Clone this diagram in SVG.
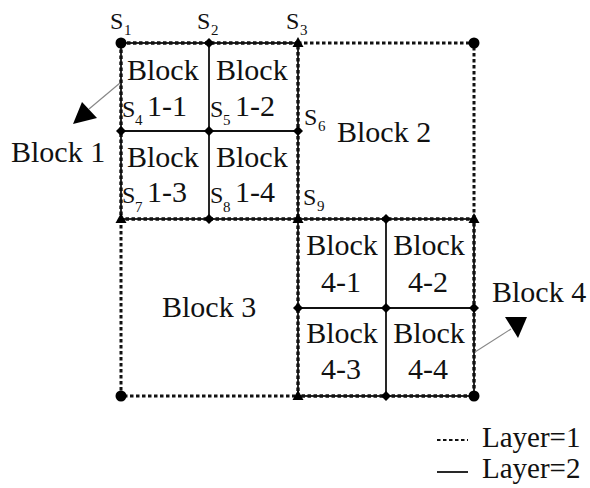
<svg xmlns="http://www.w3.org/2000/svg" width="590" height="488" viewBox="0 0 590 488">
<defs>
<style>
text{font-family:"Liberation Serif","Times New Roman",serif;fill:#111}
.big{font-size:30px}
.s{font-size:24px}
.sub{font-size:15px}
.leg{font-size:29px}
.l1{stroke:#111;stroke-width:3;stroke-dasharray:3.5 2.5;fill:none}
.l2{stroke:#111;stroke-width:1.8;fill:none}
.both{stroke:#111;stroke-width:3.4;stroke-dasharray:3.5 2.5;fill:none}
.ptr{stroke:#888;stroke-width:1.2;fill:none}
.mk{fill:#000}
</style>
<circle id="dot" r="5.5" class="mk"/>
<polygon id="dia" points="0,-5 5,0 0,5 -5,0" class="mk"/>
<polygon id="tri" points="0,-6 5.5,4 -5.5,4" class="mk"/>
</defs>
<rect width="590" height="488" fill="#fff"/>

<g id="connectors">
<!-- Layer 1 only -->
<path class="l1" d="M298,43 H474 V219"/>
<path class="l1" d="M121,219 V396 H298"/>
<!-- Layer 1 + Layer 2 overlap (block borders) -->
<rect class="l2" x="121" y="43" width="177" height="176"/>
<rect class="both" x="121" y="43" width="177" height="176"/>
<rect class="l2" x="298" y="219" width="176" height="177"/>
<rect class="both" x="298" y="219" width="176" height="177"/>
<!-- Layer 2 inner lines -->
<path class="l2" d="M209,43 V219 M121,131 H298"/>
<path class="l2" d="M386,219 V396 M298,308 H474"/>
<!-- pointers -->
<line class="ptr" x1="120" y1="83" x2="89" y2="109"/>
<polygon class="mk" points="82,102 97,118 73,124"/>
<line class="ptr" x1="475" y1="352" x2="511" y2="329"/>
<polygon class="mk" points="505,317 527,317 518,338"/>
</g>

<g id="vertices">
<use href="#dot" x="121" y="43"/>
<use href="#dot" x="474" y="43"/>
<use href="#dot" x="121" y="396"/>
<use href="#dot" x="474" y="396"/>
<use href="#dia" x="209" y="43"/>
<use href="#dia" x="121" y="131"/>
<use href="#dia" x="209" y="131"/>
<use href="#dia" x="298" y="131"/>
<use href="#dia" x="209" y="219"/>
<use href="#dia" x="386" y="219"/>
<use href="#dia" x="298" y="308"/>
<use href="#dia" x="386" y="308"/>
<use href="#dia" x="474" y="308"/>
<use href="#dia" x="386" y="396"/>
<use href="#tri" x="298" y="43"/>
<use href="#tri" x="121" y="219"/>
<use href="#tri" x="298" y="219"/>
<use href="#tri" x="474" y="219"/>
<use href="#tri" x="298" y="396"/>
</g>

<g id="seeds">
<text class="s" x="110" y="29">S</text><text class="sub" x="124" y="35">1</text>
<text class="s" x="197" y="29">S</text><text class="sub" x="211" y="35">2</text>
<text class="s" x="286" y="29">S</text><text class="sub" x="300" y="35">3</text>
<text class="s" x="304" y="125">S</text><text class="sub" x="318" y="131">6</text>
<text class="s" x="303" y="205">S</text><text class="sub" x="317" y="211">9</text>
</g>

<g id="block1">
<text class="big" x="11" y="162">Block 1</text>
</g>
<g id="block1-1">
<text class="big" x="127" y="80">Block</text>
<text class="s" x="122" y="117">S</text><text class="sub" x="135" y="125">4</text>
<text class="big" x="147" y="116">1-1</text>
</g>
<g id="block1-2">
<text class="big" x="216" y="80">Block</text>
<text class="s" x="210" y="117">S</text><text class="sub" x="223" y="125">5</text>
<text class="big" x="235" y="116">1-2</text>
</g>
<g id="block1-3">
<text class="big" x="127" y="167">Block</text>
<text class="s" x="122" y="203">S</text><text class="sub" x="135" y="212">7</text>
<text class="big" x="147" y="202">1-3</text>
</g>
<g id="block1-4">
<text class="big" x="216" y="167">Block</text>
<text class="s" x="210" y="203">S</text><text class="sub" x="223" y="212">8</text>
<text class="big" x="235" y="202">1-4</text>
</g>

<g id="block2">
<text class="big" x="337" y="142">Block 2</text>
</g>
<g id="block3">
<text class="big" x="162" y="317">Block 3</text>
</g>

<g id="block4">
<text class="big" x="492" y="302">Block 4</text>
</g>
<g id="block4-1">
<text class="big" x="342" y="255" text-anchor="middle">Block</text>
<text class="big" x="341" y="292" text-anchor="middle">4-1</text>
</g>
<g id="block4-2">
<text class="big" x="429" y="255" text-anchor="middle">Block</text>
<text class="big" x="428" y="292" text-anchor="middle">4-2</text>
</g>
<g id="block4-3">
<text class="big" x="342" y="343" text-anchor="middle">Block</text>
<text class="big" x="341" y="379" text-anchor="middle">4-3</text>
</g>
<g id="block4-4">
<text class="big" x="429" y="343" text-anchor="middle">Block</text>
<text class="big" x="428" y="379" text-anchor="middle">4-4</text>
</g>

<g id="legend">
<line x1="437" y1="440" x2="468" y2="440" stroke="#111" stroke-width="1.8" stroke-dasharray="3.5 2.5"/>
<text class="leg" x="482" y="447">Layer=1</text>
<line x1="437" y1="472" x2="468" y2="472" stroke="#111" stroke-width="1.8"/>
<text class="leg" x="482" y="478">Layer=2</text>
</g>
</svg>
